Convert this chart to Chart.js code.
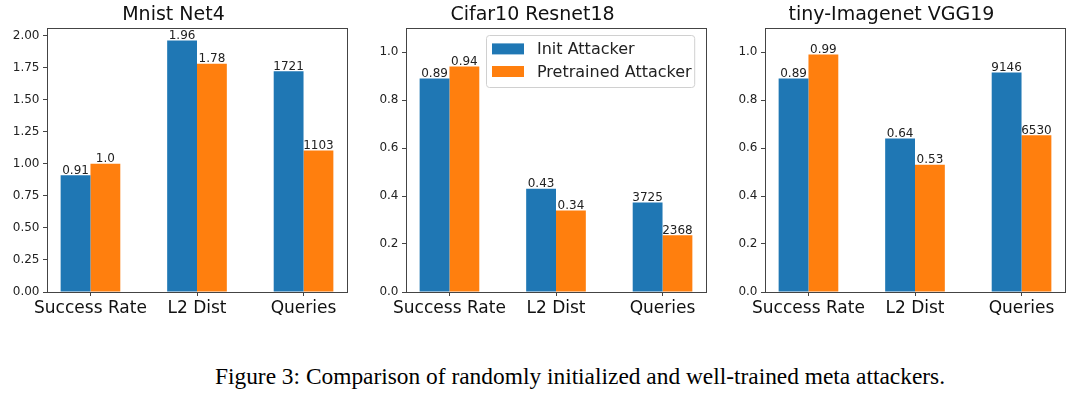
<!DOCTYPE html>
<html lang="en">

<head>
  <meta charset="UTF-8">
  <title>Figure 3 - Init vs Pretrained Attacker</title>
  <script src="https://cdn.jsdelivr.net/npm/chart.js@4.4.0/dist/chart.umd.min.js"></script>
  <style>
    body {
      margin: 0;
      background: #fff;
    }

    #figure {
      position: relative;
      width: 1080px;
      height: 396px;
      overflow: hidden;
    }

    .panel {
      position: absolute;
      top: 0;
      width: 394px;
      height: 330px;
    }

    #caption {
      position: absolute;
      left: 100px;
      width: 960px;
      top: 364px;
      text-align: center;
      font-family: "Liberation Serif", serif;
      font-size: 23.4px;
      line-height: 24px;
      white-space: nowrap;
      color: #000;
    }
  </style>
</head>

<body>
  <div id="figure">
    <div class="panel" style="left:0px"><canvas id="chart1"></canvas></div>
    <div class="panel" style="left:359px"><canvas id="chart2"></canvas></div>
    <div class="panel" style="left:718px"><canvas id="chart3"></canvas></div>
    <div id="caption">Figure 3: Comparison of randomly initialized and well-trained meta attackers.</div>
  </div>

  <script>
    const categories = ['Success Rate', 'L2 Dist', 'Queries'];
    const seriesNames = ['Init Attacker', 'Pretrained Attacker'];
    const seriesColors = ['#1f77b4', '#ff7f0e'];

    // bar heights (queries are scaled down to fit the same axis)
    const mnistInit = [0.91, 1.96, 1.721];
    const mnistPre = [1.0, 1.78, 1.103];
    const cifarInit = [0.89, 0.43, 0.3725];
    const cifarPre = [0.94, 0.34, 0.2368];
    const tinyInit = [0.89, 0.64, 0.9146];
    const tinyPre = [0.99, 0.53, 0.653];

    // text written on top of the bars
    const mnistInitLabels = ['0.91', '1.96', '1721'];
    const mnistPreLabels = ['1.0', '1.78', '1103'];
    const cifarInitLabels = ['0.89', '0.43', '3725'];
    const cifarPreLabels = ['0.94', '0.34', '2368'];
    const tinyInitLabels = ['0.89', '0.64', '9146'];
    const tinyPreLabels = ['0.99', '0.53', '6530'];

    // y ticks
    const mnistTicks = [0, 0.25, 0.5, 0.75, 1.0, 1.25, 1.5, 1.75, 2.0];
    const unitTicks = [0, 0.2, 0.4, 0.6, 0.8, 1.0];

    Chart.defaults.font.family = '"DejaVu Sans", sans-serif';
    Chart.defaults.color = '#222';

    // draws the four spines around the plot area
    const framePlugin = {
      id: 'frame',
      afterDraw(chart) {
        const a = chart.chartArea;
        const ctx = chart.ctx;
        ctx.save();
        ctx.strokeStyle = '#444';
        ctx.lineWidth = 1;
        ctx.strokeRect(Math.round(a.left) + 0.5, Math.round(a.top) + 0.5,
          Math.round(a.right - a.left), Math.round(a.bottom - a.top));
        ctx.restore();
      }
    };

    // value text above each bar
    const barLabelPlugin = {
      id: 'barLabels',
      afterDatasetsDraw(chart) {
        const ctx = chart.ctx;
        ctx.save();
        ctx.font = '12px "DejaVu Sans"';
        ctx.fillStyle = '#222';
        ctx.textAlign = 'center';
        ctx.textBaseline = 'alphabetic';
        chart.data.datasets.forEach((ds, d) => {
          chart.getDatasetMeta(d).data.forEach((bar, i) => {
            ctx.fillText(ds.valueLabels[i], bar.x, bar.y - 1.5);
          });
        });
        ctx.restore();
      }
    };

    // matplotlib style legend box (upper right)
    const boxLegendPlugin = {
      id: 'boxLegend',
      afterDraw(chart) {
        const ctx = chart.ctx;
        const a = chart.chartArea;
        ctx.save();
        ctx.font = '16px "DejaVu Sans"';
        const textW = Math.max(...chart.data.datasets.map(d => ctx.measureText(d.label).width));
        const w = 5.5 + 32 + 13 + textW + 3;
        const h = 52;
        const x = Math.round(a.right - 12 - w) + 0.5;
        const y = Math.round(a.top + 7) + 0.5;
        ctx.beginPath();
        ctx.roundRect(x, y, w, h, 3);
        ctx.fillStyle = 'rgba(255,255,255,0.8)';
        ctx.fill();
        ctx.strokeStyle = '#d0d0d0';
        ctx.lineWidth = 1;
        ctx.stroke();
        ctx.textBaseline = 'middle';
        ctx.textAlign = 'left';
        chart.data.datasets.forEach((d, i) => {
          const cy = y + 13.4 + i * 22.6;
          ctx.fillStyle = d.backgroundColor;
          ctx.fillRect(x + 5.5, cy - 5.5, 32, 11);
          ctx.fillStyle = '#222';
          ctx.fillText(d.label, x + 50.5, cy + 1);
        });
        ctx.restore();
      }
    };

    function makeChart(id, title, init, pre, initLabels, preLabels, yMax, yTicks, digits, withLegend) {
      const ctx = document.getElementById(id).getContext('2d');
      const plugins = [framePlugin, barLabelPlugin];
      if (withLegend) plugins.push(boxLegendPlugin);

      return new Chart(ctx, {
        type: 'bar',
        data: {
          datasets: [
            {
              label: seriesNames[0],
              data: init.map((v, i) => ({ x: i, y: v })),
              valueLabels: initLabels,
              backgroundColor: seriesColors[0],
              borderWidth: 0
            },
            {
              label: seriesNames[1],
              data: pre.map((v, i) => ({ x: i, y: v })),
              valueLabels: preLabels,
              backgroundColor: seriesColors[1],
              borderWidth: 0
            }
          ]
        },
        options: {
          responsive: true,
          maintainAspectRatio: false,
          animation: false,
          categoryPercentage: 0.56,
          barPercentage: 1.0,
          layout: {
            padding: { left: 0, right: 47, top: 0, bottom: 0 }
          },
          plugins: {
            legend: { display: false },
            tooltip: { enabled: false },
            title: {
              display: true,
              text: title,
              color: '#111',
              font: { size: 19, weight: 'normal' },
              padding: { top: 3.5, bottom: 1.7 }
            }
          },
          scales: {
            x: {
              type: 'linear',
              min: -0.408,
              max: 2.408,
              offset: false,
              afterBuildTicks: s => { s.ticks = categories.map((c, i) => ({ value: i })); },
              afterFit: s => { s.height = 38; },
              border: { display: false },
              grid: {
                offset: false,
                drawOnChartArea: false,
                color: '#444',
                tickLength: 4
              },
              ticks: {
                padding: 2,
                maxRotation: 0,
                autoSkip: false,
                font: { size: 17 },
                color: '#111',
                callback: (v, i) => categories[i]
              }
            },
            y: {
              min: 0,
              max: yMax,
              afterBuildTicks: s => { s.ticks = yTicks.map(v => ({ value: v })); },
              afterFit: s => { s.width = 47; },
              border: { display: false },
              grid: {
                drawOnChartArea: false,
                color: '#444',
                tickLength: 4
              },
              ticks: {
                padding: 3.5,
                font: { size: 12 },
                color: '#222',
                callback: v => Number(v).toFixed(digits)
              }
            }
          }
        },
        plugins: plugins
      });
    }

    makeChart('chart1', 'Mnist Net4', mnistInit, mnistPre, mnistInitLabels, mnistPreLabels, 2.058, mnistTicks, 2, false);
    makeChart('chart2', 'Cifar10 Resnet18', cifarInit, cifarPre, cifarInitLabels, cifarPreLabels, 1.1, unitTicks, 1, true);
    makeChart('chart3', 'tiny-Imagenet VGG19', tinyInit, tinyPre, tinyInitLabels, tinyPreLabels, 1.1, unitTicks, 1, false);
  </script>
</body>

</html>
